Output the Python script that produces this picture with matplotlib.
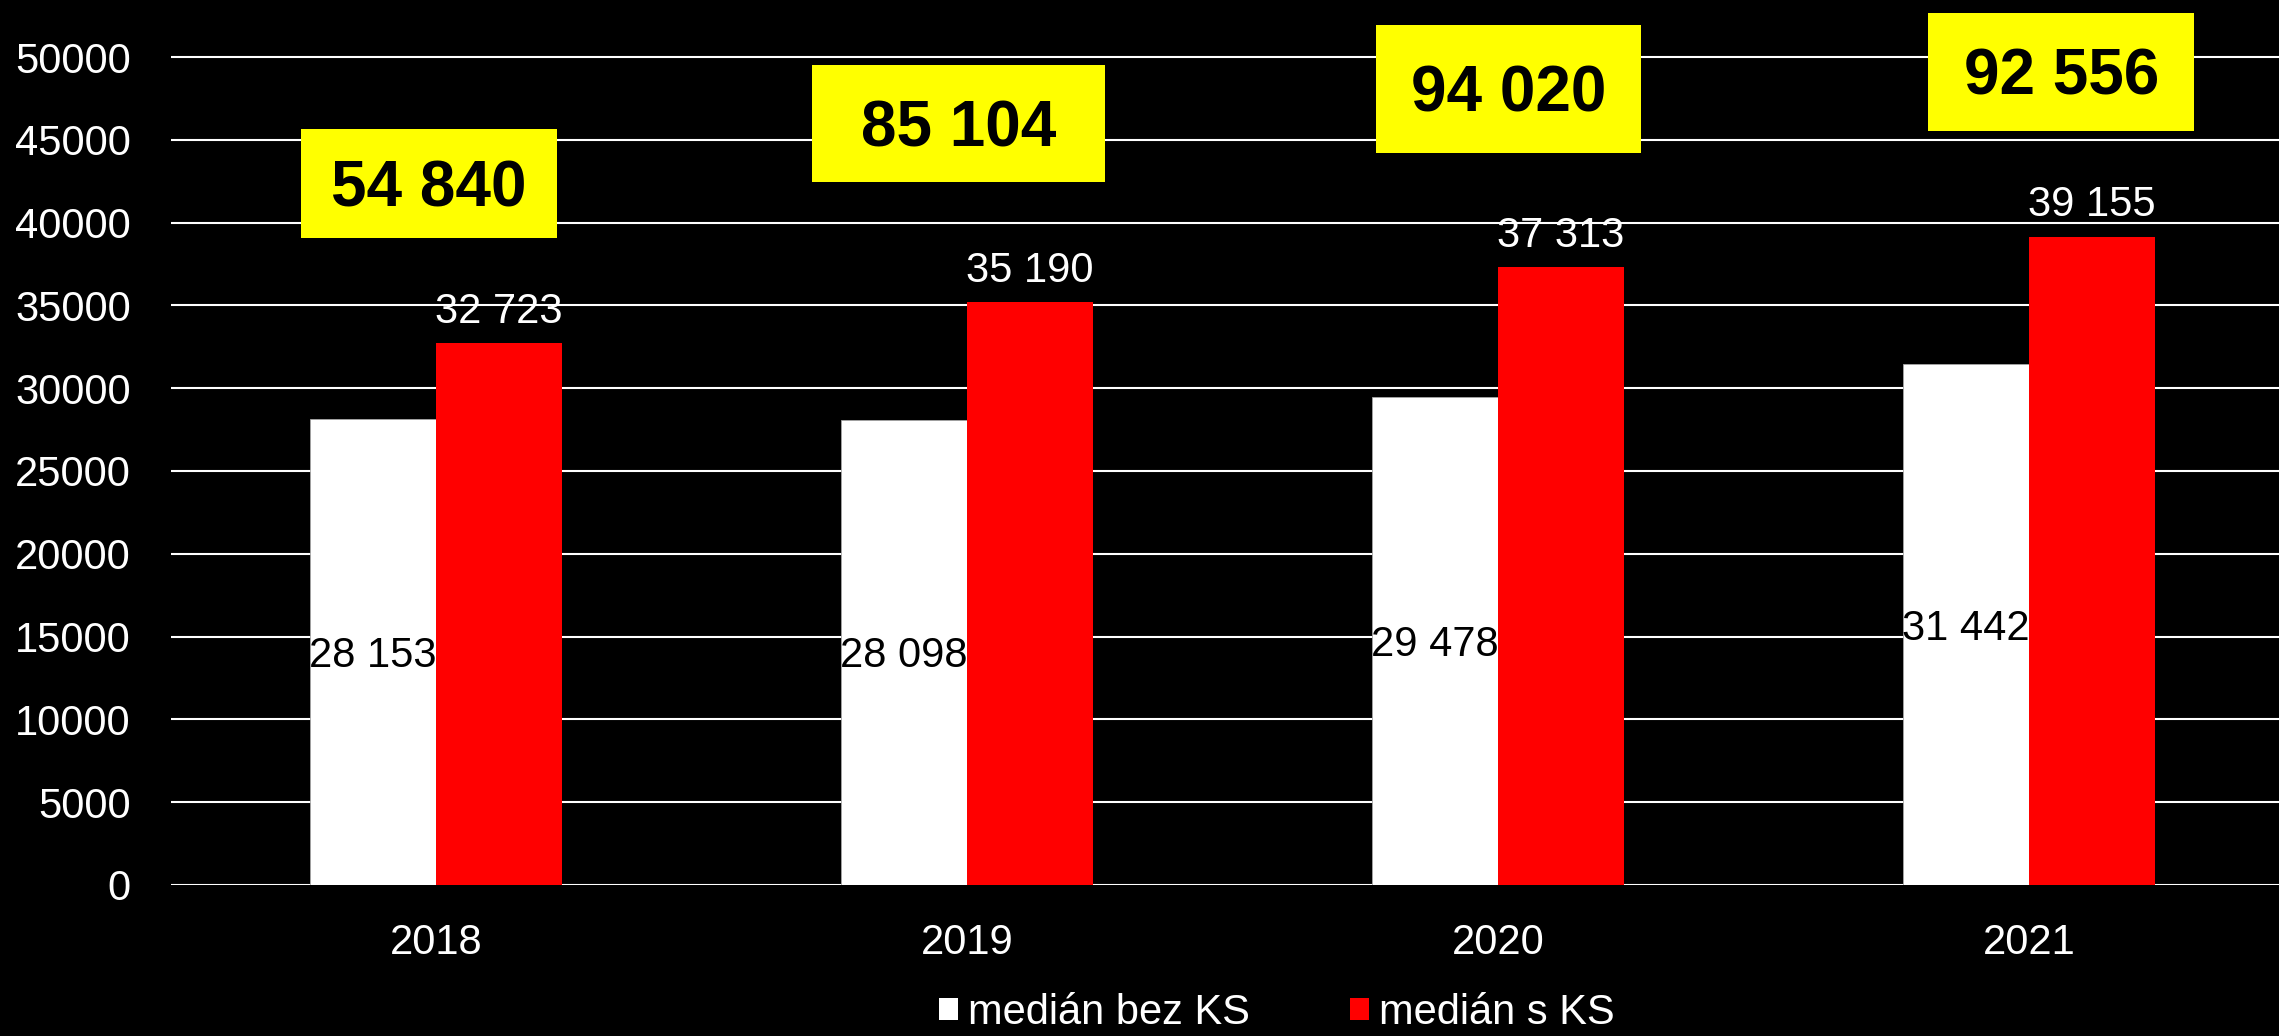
import numpy as np
import matplotlib
matplotlib.use("Agg")
import matplotlib.pyplot as plt
from matplotlib.patches import Rectangle, Patch

# data
years = ["2018", "2019", "2020", "2021"]
median_bez_ks = [28153, 28098, 29478, 31442]
median_s_ks = [32723, 35190, 37313, 39155]
totals = [54840, 85104, 94020, 92556]
series_names = ["medián bez KS", "medián s KS"]

# yellow boxes: (x offset from category, bottom value, width in categories, height in values)
box_layout = [
    (-0.254, 39070, 0.482, 6580),
    (-0.292, 42450, 0.552, 7070),
    (-0.230, 44200, 0.500, 7730),
    (-0.190, 45530, 0.501, 7130),
]


def fmt(v):
    return f"{v:,}".replace(",", " ")


plt.rcParams["font.family"] = ["Liberation Sans", "DejaVu Sans"]

fig = plt.figure(figsize=(22.79, 10.36), dpi=100, facecolor="black")
W, H = 2279, 1036
ymax = 50600
px_per_unit = 828 / 50000
ax_top = 885 - ymax * px_per_unit
ax = fig.add_axes([171 / W, 1 - 885 / H, 1 - 171 / W, (885 - ax_top) / H])
ax.set_facecolor("black")

x = np.arange(len(years))
bw = 0.237
b1 = ax.bar(x - bw / 2, median_bez_ks, bw, color="white", edgecolor="#a6a6a6",
            linewidth=0.6, label=series_names[0], zorder=2)
b2 = ax.bar(x + bw / 2, median_s_ks, bw, color="#ff0000", linewidth=0,
            label=series_names[1], zorder=2)

ax.set_xlim((171 - 436) / 531, (W - 436) / 531)
ax.set_ylim(0, ymax)
ax.set_yticks(np.arange(0, 50001, 5000))
ax.set_xticks(x)
ax.set_xticklabels(years)
ax.tick_params(axis="both", length=0, colors="white", labelsize=30)
ax.tick_params(axis="y", pad=29)
ax.tick_params(axis="x", pad=27)
ax.yaxis.grid(True, color="white", linewidth=1.5)
ax.set_axisbelow(True)
for s in ax.spines.values():
    s.set_visible(False)

# half cap height of a 30pt and 46pt label, in data units
cap30 = 0.716 * 30 * 100 / 72 / 2 / px_per_unit
cap46 = 0.716 * 46 * 100 / 72 / 2 / px_per_unit

# value labels
for xi, v in zip(x, median_bez_ks):
    ax.text(xi - bw / 2, v / 2 - cap30, fmt(v), ha="center", va="baseline",
            color="black", fontsize=30, zorder=3)
for xi, v in zip(x, median_s_ks):
    ax.annotate(fmt(v), (xi + bw / 2, v), xytext=(0, 14.5), textcoords="offset points",
                ha="center", va="baseline", color="white", fontsize=30, zorder=3)

# yellow total boxes
for xi, tot, (dx, yb, w, h) in zip(x, totals, box_layout):
    ax.add_patch(Rectangle((xi + dx, yb), w, h, facecolor="#ffff00",
                           edgecolor="none", zorder=4, clip_on=False))
    ax.text(xi + dx + w / 2, yb + h / 2 - cap46, fmt(tot), ha="center", va="baseline",
            fontsize=46, fontweight="bold", color="black", zorder=5)

handles = [Patch(facecolor="white"), Patch(facecolor="#ff0000")]
leg = fig.legend(handles, series_names, loc="center", ncol=2,
                 bbox_to_anchor=(1277 / W, 1 - 1013 / H), frameon=False,
                 fontsize=30, handlelength=0.45, handleheight=0.45,
                 handletextpad=0.25, columnspacing=2.4, borderpad=0)
for t in leg.get_texts():
    t.set_color("white")

fig.savefig("out.png", dpi=100, facecolor="black")
